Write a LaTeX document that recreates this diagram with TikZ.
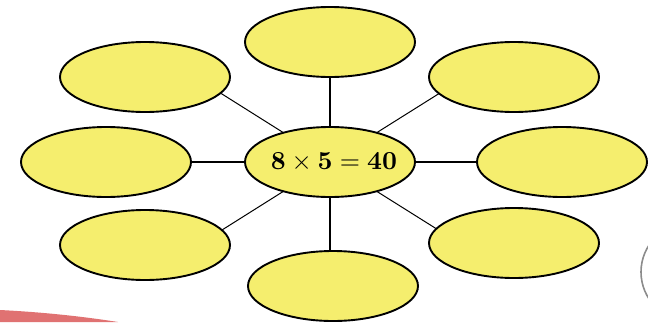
\documentclass[tikz,border=0pt]{standalone}
\usetikzlibrary{shapes.geometric,backgrounds,calc}
\definecolor{bubble}{RGB}{245,238,110}
\definecolor{swoosh}{RGB}{224,114,114}
\definecolor{ring}{RGB}{140,140,140}
\begin{document}
\begin{tikzpicture}[x=1pt,y=-1pt,
  bubble/.style={ellipse,draw=black,line width=1.9pt,fill=bubble,
    minimum width=170pt,minimum height=70pt,inner sep=0pt},
  spoke/.style={draw=black,line width=1.2pt},
  diag/.style={draw=black,line width=1pt}]
\useasboundingbox (0,0) rectangle (648,322);
% decorative edges
\fill[swoosh] (0,310) .. controls (40,312) and (80,316) .. (118,322) -- (0,322) -- cycle;
\draw[ring,line width=1.6pt] (690,272) circle (49);
% hub and surrounding bubbles
\node[bubble] (c) at (330,162) {};
\node (eq) at (334,162) {\scalebox{2.6}{$\mathbf{8\times5=40}$}};
\node[bubble] (t)  at (330,42)  {};
\node[bubble] (tl) at (145,77)  {};
\node[bubble] (tr) at (514,77)  {};
\node[bubble] (l)  at (106,162) {};
\node[bubble] (r)  at (562,162) {};
\node[bubble] (bl) at (145,245) {};
\node[bubble] (br) at (514,243) {};
\node[bubble] (b)  at (333,286) {};
% spokes, kept behind the filled bubbles
\begin{scope}[on background layer]
\draw[spoke] (c.center) -- (t.center);
\draw[spoke] (c.center) -- (c.center |- b.center);
\draw[spoke] (l.center) -- (r.center);
\draw[diag] (c.center) -- ($(tl.center)+(50,0)$);
\draw[diag] (c.center) -- ($(tr.center)+(-47,-1)$);
\draw[diag] (c.center) -- ($(bl.center)+(50,2)$);
\draw[diag] (c.center) -- ($(br.center)+(-47,5)$);
\end{scope}
\end{tikzpicture}
\end{document}
